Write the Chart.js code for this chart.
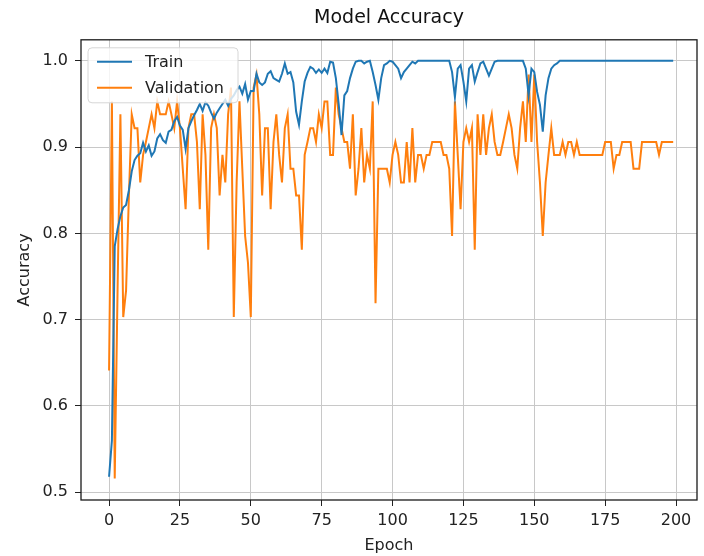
<!DOCTYPE html>
<html>
<head>
<meta charset="utf-8">
<script src="https://cdn.jsdelivr.net/npm/chart.js@4.4.0/dist/chart.umd.min.js"></script>
<style>
  html, body { margin: 0; padding: 0; background: #fff; }
</style>
</head>
<body>
<canvas id="myChart" width="704" height="556"></canvas>
<script>
// accuracy per epoch
const trainAcc = [
  0.518, 0.56, 0.785, 0.805, 0.82, 0.83, 0.833, 0.85, 0.872, 0.885,
  0.89, 0.893, 0.905, 0.895, 0.902, 0.89, 0.895, 0.91, 0.915, 0.908,
  0.905, 0.918, 0.92, 0.93, 0.935, 0.925, 0.92, 0.898, 0.922, 0.93,
  0.937, 0.943, 0.95, 0.942, 0.952, 0.948, 0.94, 0.933, 0.94, 0.945,
  0.95, 0.955, 0.948, 0.956, 0.96, 0.966, 0.97, 0.962, 0.973, 0.955,
  0.965, 0.965, 0.985, 0.975, 0.972, 0.975, 0.985, 0.988, 0.98, 0.978,
  0.976, 0.985, 0.997, 0.985, 0.987, 0.975, 0.941, 0.926, 0.953, 0.976,
  0.986, 0.993, 0.991, 0.986, 0.99, 0.986, 0.991, 0.986, 0.999, 0.998,
  0.98, 0.95, 0.914, 0.96, 0.965, 0.98, 0.991, 0.999, 1.0, 1.0,
  0.997, 0.999, 1.0, 0.987, 0.972, 0.955, 0.98, 0.995, 0.997, 1.0,
  0.999, 0.995, 0.991, 0.98, 0.987, 0.991, 0.995, 0.999, 0.997, 1.0,
  1.0, 1.0, 1.0, 1.0, 1.0, 1.0, 1.0, 1.0, 1.0, 1.0,
  1.0, 0.987, 0.958, 0.991, 0.995, 0.976, 0.953, 0.991, 0.995, 0.976,
  0.987, 0.997, 0.999, 0.991, 0.983, 0.991, 0.999, 1.0, 1.0, 1.0,
  1.0, 1.0, 1.0, 1.0, 1.0, 1.0, 1.0, 0.991, 0.96, 0.991,
  0.987, 0.964, 0.949, 0.918, 0.96, 0.98, 0.991, 0.995, 0.997, 1.0,
  1.0, 1.0, 1.0, 1.0, 1.0, 1.0, 1.0, 1.0, 1.0, 1.0,
  1.0, 1.0, 1.0, 1.0, 1.0, 1.0, 1.0, 1.0, 1.0, 1.0,
  1.0, 1.0, 1.0, 1.0, 1.0, 1.0, 1.0, 1.0, 1.0, 1.0,
  1.0, 1.0, 1.0, 1.0, 1.0, 1.0, 1.0, 1.0, 1.0, 1.0
]
const valAcc = [
  0.641, 0.953, 0.516, 0.734, 0.938, 0.703, 0.734, 0.844, 0.938, 0.922,
  0.922, 0.859, 0.891, 0.906, 0.922, 0.938, 0.922, 0.953, 0.938, 0.938,
  0.938, 0.953, 0.938, 0.922, 0.953, 0.922, 0.875, 0.828, 0.922, 0.938,
  0.938, 0.906, 0.828, 0.938, 0.891, 0.781, 0.922, 0.938, 0.922, 0.844,
  0.891, 0.859, 0.938, 0.969, 0.703, 0.859, 0.953, 0.875, 0.797, 0.766,
  0.703, 0.969, 0.984, 0.938, 0.844, 0.922, 0.922, 0.828, 0.906, 0.938,
  0.891, 0.859, 0.922, 0.938, 0.875, 0.875, 0.844, 0.844, 0.781, 0.891,
  0.906, 0.922, 0.922, 0.906, 0.938, 0.922, 0.953, 0.953, 0.891, 0.891,
  0.969, 0.938, 0.922, 0.906, 0.906, 0.875, 0.938, 0.844, 0.875, 0.922,
  0.859, 0.891, 0.875, 0.953, 0.719, 0.875, 0.875, 0.875, 0.875, 0.859,
  0.891, 0.906, 0.891, 0.859, 0.859, 0.906, 0.859, 0.922, 0.859, 0.891,
  0.891, 0.875, 0.891, 0.891, 0.906, 0.906, 0.906, 0.906, 0.891, 0.891,
  0.875, 0.797, 0.953, 0.891, 0.828, 0.906, 0.922, 0.906, 0.922, 0.781,
  0.938, 0.891, 0.938, 0.891, 0.922, 0.938, 0.906, 0.891, 0.891, 0.906,
  0.922, 0.938, 0.922, 0.891, 0.875, 0.922, 0.953, 0.906, 0.984, 0.906,
  0.984, 0.906, 0.859, 0.797, 0.859, 0.891, 0.922, 0.891, 0.891, 0.891,
  0.906, 0.891, 0.906, 0.906, 0.891, 0.906, 0.891, 0.891, 0.891, 0.891,
  0.891, 0.891, 0.891, 0.891, 0.891, 0.906, 0.906, 0.906, 0.875, 0.891,
  0.891, 0.906, 0.906, 0.906, 0.906, 0.875, 0.875, 0.875, 0.906, 0.906,
  0.906, 0.906, 0.906, 0.906, 0.891, 0.906, 0.906, 0.906, 0.906, 0.906
]
const seriesNames = ['Train', 'Validation']
const seriesColors = ['#1f77b4', '#ff7f0e']
const xTicks = [0, 25, 50, 75, 100, 125, 150, 175, 200]
const yTicks = [0.5, 0.6, 0.7, 0.8, 0.9, 1.0]

const font = "'DejaVu Sans', sans-serif"

// black frame round the plot plus a matplotlib looking legend box
const frameAndLegend = {
    id: 'frameAndLegend',
    afterDatasetsDraw(chart) {
        const ctx = chart.ctx
        const a = chart.chartArea
        ctx.save()
        ctx.strokeStyle = '#1a1a1a'
        ctx.lineWidth = 1.3
        ctx.strokeRect(a.left, a.top, a.right - a.left, a.bottom - a.top)

        const x = a.left + 7, y = a.top + 8, w = 150, h = 55, r = 4
        ctx.beginPath()
        ctx.moveTo(x + r, y)
        ctx.arcTo(x + w, y, x + w, y + h, r)
        ctx.arcTo(x + w, y + h, x, y + h, r)
        ctx.arcTo(x, y + h, x, y, r)
        ctx.arcTo(x, y, x + w, y, r)
        ctx.closePath()
        ctx.fillStyle = 'rgba(255,255,255,0.8)'
        ctx.fill()
        ctx.strokeStyle = '#d6d6d6'
        ctx.lineWidth = 1
        ctx.stroke()

        ctx.font = '16px ' + font
        ctx.textBaseline = 'middle'
        seriesNames.forEach((name, i) => {
            const ly = y + 14 + i * 26
            ctx.strokeStyle = seriesColors[i]
            ctx.lineWidth = 2
            ctx.beginPath()
            ctx.moveTo(x + 9, ly)
            ctx.lineTo(x + 44, ly)
            ctx.stroke()
            ctx.fillStyle = '#222'
            ctx.fillText(name, x + 57, ly + 1)
        })
        ctx.restore()
    }
}

const chartData = {
    datasets: [trainAcc, valAcc].map((values, i) => ({
        label: seriesNames[i],
        data: values.map((v, epoch) => ({ x: epoch, y: v })),
        borderColor: seriesColors[i],
        backgroundColor: seriesColors[i],
        borderWidth: 2,
        pointRadius: 0,
        tension: 0
    }))
}

const config = {
    type: 'line',
    data: chartData,
    options: {
        responsive: false,
        animation: false,
        layout: { padding: { left: 0, right: 7, top: 0, bottom: 0 } },
        plugins: {
            legend: { display: false },
            tooltip: { enabled: false },
            title: {
                display: true,
                text: 'Model Accuracy',
                fullSize: false,
                color: '#111',
                font: { family: font, size: 19, weight: 'normal' },
                padding: { top: 7, bottom: 10 }
            }
        },
        scales: {
            x: {
                type: 'linear',
                min: -9.9,
                max: 207.4,
                afterFit: scale => { scale.height = 56 },
                afterBuildTicks: scale => { scale.ticks = xTicks.map(v => ({ value: v })) },
                grid: { color: '#c8c8c8', tickColor: '#222', tickLength: 6, lineWidth: 1 },
                border: { display: false },
                ticks: {
                    color: '#222',
                    font: { family: font, size: 16 },
                    padding: 5,
                    maxRotation: 0,
                    callback: v => String(v)
                },
                title: {
                    display: true,
                    text: 'Epoch',
                    color: '#222',
                    font: { family: font, size: 16 },
                    padding: { top: 2, bottom: 1 }
                }
            },
            y: {
                min: 0.491,
                max: 1.0244,
                afterFit: scale => { scale.width = 81 },
                afterBuildTicks: scale => { scale.ticks = yTicks.map(v => ({ value: v })) },
                grid: { color: '#c8c8c8', tickColor: '#222', tickLength: 6, lineWidth: 1 },
                border: { display: false },
                ticks: {
                    color: '#222',
                    font: { family: font, size: 16 },
                    padding: 7,
                    callback: v => v.toFixed(1)
                },
                title: {
                    display: true,
                    text: 'Accuracy',
                    color: '#222',
                    font: { family: font, size: 16 },
                    padding: { top: 15, bottom: 0 }
                }
            }
        }
    },
    plugins: [frameAndLegend]
}

const myChart = new Chart(document.getElementById('myChart'), config)
</script>
</body>
</html>
